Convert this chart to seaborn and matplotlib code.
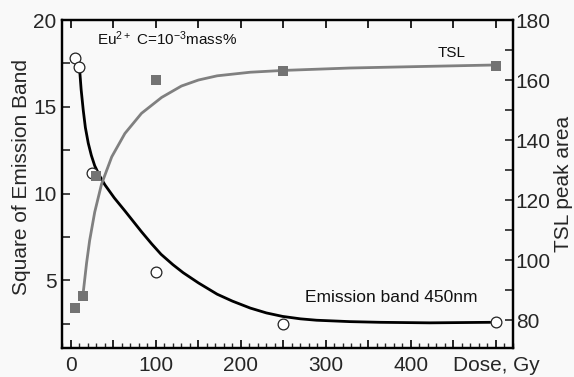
import matplotlib
matplotlib.use("Agg")
import matplotlib.pyplot as plt
import seaborn as sns
import pandas as pd
from matplotlib.ticker import MultipleLocator, FixedLocator

# ---- data ----
em_dose = [5, 10, 25, 100, 250, 500]
em_value = [17.8, 17.3, 11.2, 5.5, 2.46, 2.6]

tsl_dose = [5, 14, 30, 100, 250, 500]
tsl_value = [84, 88, 128, 160, 163, 164.7]

em_curve_dose = [10, 12, 14.5, 17, 20.4, 24, 28, 34, 40, 51, 63.5, 83, 95, 106, 120, 132, 150,
                 172, 190, 211, 230, 249, 270, 289, 328, 364, 422, 493]
em_curve_value = [17.3, 16.0, 14.8, 13.8, 12.9, 12.2, 11.6, 11.0, 10.5, 9.75, 9.0, 7.8, 7.1, 6.5,
                  5.9, 5.44, 4.85, 4.2, 3.8, 3.4, 3.12, 2.92, 2.78, 2.7, 2.62, 2.58, 2.55, 2.58]

tsl_curve_dose = [14, 16, 18.4, 22, 28, 36, 48, 63.5, 83, 106.7, 130, 150, 172, 211, 250, 328, 411, 497]
tsl_curve_value = [88, 93, 99, 106.5, 116, 125.3, 134.4, 142.2, 148.9, 154.2, 158, 160, 161.4,
                   162.6, 163.2, 164, 164.5, 165]

x_tick_labels = ["0", "", "100", "", "200", "", "300", "", "400", "", "Dose, Gy"]

sns.set_theme(style="white")
plt.rcParams["font.family"] = ["Liberation Sans", "DejaVu Sans"]
plt.rcParams["mathtext.fontset"] = "custom"
plt.rcParams["mathtext.rm"] = "Liberation Sans"
plt.rcParams["mathtext.it"] = "Liberation Sans"

bg = "#f9f9f9"
fig = plt.figure(figsize=(5.74, 3.77), dpi=100, facecolor=bg)
ax = fig.add_axes([62 / 574, 1 - 348 / 377, (513 - 62) / 574, (348 - 20) / 377])
ax.set_facecolor(bg)
ax2 = ax.twinx()

em_curve = pd.DataFrame({"dose": em_curve_dose, "value": em_curve_value})
tsl_curve = pd.DataFrame({"dose": tsl_curve_dose, "value": tsl_curve_value})
em_pts = pd.DataFrame({"dose": em_dose, "value": em_value})
tsl_pts = pd.DataFrame({"dose": tsl_dose, "value": tsl_value})

sns.lineplot(data=em_curve, x="dose", y="value", ax=ax, color="black", lw=2.0, sort=False, zorder=3)
sns.scatterplot(data=em_pts, x="dose", y="value", ax=ax, marker="o", s=60,
                facecolor="white", edgecolor="#222222", linewidth=0.9, zorder=4)

sns.lineplot(data=tsl_curve, x="dose", y="value", ax=ax2, color="#808080", lw=2.0, sort=False, zorder=3)
sns.scatterplot(data=tsl_pts, x="dose", y="value", ax=ax2, marker="s", s=55,
                color="#737373", edgecolor="#737373", linewidth=0, zorder=5)

ax.set_xlim(-10.5, 520)
ax.set_ylim(1.1, 20)
ax2.set_ylim(70.7, 180)

# x ticks
ax.xaxis.set_major_locator(FixedLocator([0, 50, 100, 150, 200, 250, 300, 350, 400, 450, 500]))
ax.set_xticklabels(x_tick_labels)
ax.xaxis.set_minor_locator(MultipleLocator(10))
ax.tick_params(axis="x", which="major", direction="in", length=6, width=1.2, labelsize=15, pad=6,
               bottom=True, top=True, color="black")
ax.tick_params(axis="x", which="minor", direction="in", length=3.5, width=1.0, bottom=True, top=False)

# left y ticks
ax.yaxis.set_major_locator(FixedLocator([5, 10, 15, 20]))
ax.yaxis.set_minor_locator(FixedLocator([2.5, 7.5, 12.5, 17.5]))
ax.tick_params(axis="y", which="both", direction="in", length=6, width=1.2, labelsize=15, pad=4,
               left=True, right=False)

# right y ticks
ax2.yaxis.set_major_locator(FixedLocator([80, 100, 120, 140, 160, 180]))
ax2.yaxis.set_minor_locator(FixedLocator([90, 110, 130, 150, 170]))
ax2.tick_params(axis="y", which="both", direction="in", length=6, width=1.2, labelsize=15, pad=2,
                right=True, left=False)

for a in (ax, ax2):
    for sp in a.spines.values():
        sp.set_color("black")
        sp.set_linewidth(1.6)
        sp.set_visible(True)

ax.set_xlabel("")
ax.set_ylabel("Square of Emission Band", fontsize=15, labelpad=2)
ax.yaxis.set_label_coords(-0.068, 0.52)
ax2.set_ylabel("TSL peak area", fontsize=15, labelpad=2)

ax.annotate(r"Eu$^{2+}$ C=10$^{-3}$mass%", xy=(97 / 574, 1 - 45 / 377), xycoords="figure fraction",
            fontsize=11, ha="left", va="baseline", color="#111111")
ax.annotate("TSL", xy=(452 / 574, 1 - 57 / 377), xycoords="figure fraction",
            fontsize=11, ha="center", va="baseline", color="#111111")
ax.annotate("Emission band 450nm", xy=(391 / 574, 1 - 302 / 377), xycoords="figure fraction",
            fontsize=12.5, ha="center", va="baseline", color="#111111")

fig.savefig("out.png", dpi=100, facecolor=bg)
